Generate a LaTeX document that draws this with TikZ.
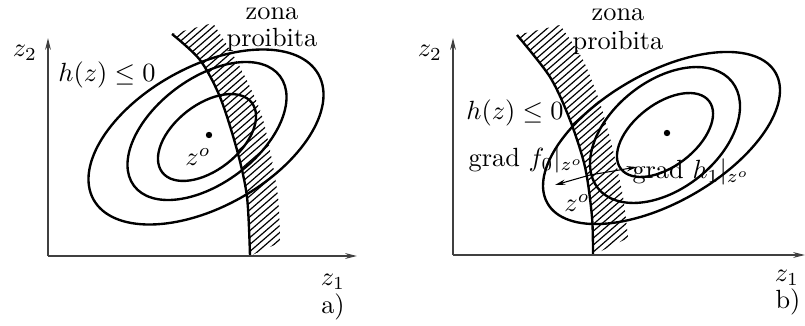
\documentclass[tikz,border=0pt]{standalone}
\usetikzlibrary{arrows.meta}
\begin{document}
\begin{tikzpicture}[x=0.38pt,y=-0.38pt,
  contour/.style={line width=0.9pt},
  axis/.style={line width=0.45pt,draw=black!75,-{Stealth[length=4.5pt,width=2.2pt]}},
  hatchline/.style={line width=0.45pt},
  grad/.style={line width=0.4pt,-{Stealth[length=4pt,width=2pt]}},
  lbl/.style={inner sep=0pt}]
\useasboundingbox (0,0) rectangle (805,325);

% ---------- panel a ----------
\coordinate (oa) at (48,256);
\coordinate (ya) at (48,38);
\coordinate (xa) at (357,256);
\begin{scope}
\clip plot[smooth] coordinates {(172,34) (200,60) (220,97) (237,150) (247,197) (250,256)}
  -- (281,242) -- plot[smooth] coordinates {(280,240) (278,197) (270,150) (260,110) (240,67) (213,23)} -- cycle;
\foreach \k in {-60,...,100} \draw[hatchline] (8*\k,260) -- (8*\k+300,0);
\end{scope}
\draw[contour] plot[smooth] coordinates {(172,34) (200,60) (220,97) (237,150) (247,197) (250,256)};
\draw[contour,rotate around={29.1:(206,137)}] (206,137) ellipse [x radius=128.7, y radius=70];
\draw[contour,rotate around={36.9:(207,131)}] (207,131) ellipse [x radius=91.3, y radius=52.4];
\draw[contour,rotate around={38:(207,137.5)}] (207,137.5) ellipse [x radius=56.7, y radius=32.8];
\draw[axis] (oa) -- (ya);
\draw[axis] (oa) -- (xa);
\fill (209,135) circle (3.2);
\node[lbl] (z2a) at (25,53) {$z_2$};
\node[lbl] (z1a) at (333,282) {$z_1$};
\node[lbl] (taga) at (333,307) {a)};
\node[lbl] (ha) at (107,75) {$h(z)\le 0$};
\node[lbl] (zonaa) at (272,14) {zona};
\node[lbl] (proa) at (272,40) {proibita};
\node[lbl] (zoa) at (198,157) {$z^o$};

% ---------- panel b ----------
\coordinate (ob) at (453,255);
\coordinate (yb) at (453,38);
\coordinate (xb) at (805,255);
\begin{scope}
\clip plot[smooth] coordinates {(517,35) (550,77) (570,120) (585,167) (592,217) (593,255)}
  -- (628,238) -- plot[smooth] coordinates {(628,237) (623,197) (613,150) (600,103) (583,60) (560,25)} -- cycle;
\foreach \k in {0,...,200} \draw[hatchline] (8*\k,260) -- (8*\k+300,0);
\end{scope}
\draw[contour] plot[smooth] coordinates {(517,35) (550,77) (570,120) (585,167) (592,217) (593,255)};
\draw[contour,rotate around={29.8:(661.5,138)}] (661.5,138) ellipse [x radius=131.4, y radius=64.6];
\draw[contour,rotate around={38.4:(665,135)}] (665,135) ellipse [x radius=85.6, y radius=54];
\draw[contour,rotate around={37.5:(665,135)}] (665,135) ellipse [x radius=55.6, y radius=31.3];
\draw[axis] (ob) -- (yb);
\draw[axis] (ob) -- (xb);
\fill (667,133) circle (3.2);
\coordinate (zpt) at (590,175);
\coordinate (tipf) at (555,185);
\coordinate (tiph) at (637,167);
\draw[grad] (zpt) -- (tipf);
\draw[grad] (zpt) -- (tiph);
\node[lbl] (z2b) at (430,53) {$z_2$};
\node[lbl] (z1b) at (787,278) {$z_1$};
\node[lbl] (tagb) at (788,302) {b)};
\node[lbl] (zonab) at (618,15) {zona};
\node[lbl] (prob) at (618,43) {proibita};
\node[lbl] (hb) at (515,113) {$h(z)\le 0$};
\node[lbl] (gf) at (526,160) {grad $f_0|_{z^o}$};
\node[lbl] (gh) at (691,172) {grad $h_1|_{z^o}$};
\node[lbl] (zob) at (577,203) {$z^o$};
\end{tikzpicture}
\end{document}
